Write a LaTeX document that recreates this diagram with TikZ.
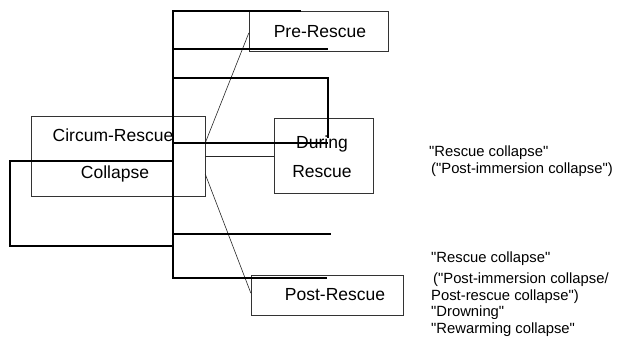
\documentclass[tikz,border=0pt]{standalone}
\usepackage{fontspec}
\setmainfont{Liberation Sans}[Ligatures=TeXOff]
\begin{document}
\begin{tikzpicture}[x=1pt,y=-1pt,
  thick line/.style={line width=2.2pt,line cap=rect},
  thin box/.style={draw=black!80,line width=0.6pt},
  thin link/.style={draw=black!85,line width=0.6pt},
  boxtext/.style={font=\fontsize{17.5}{20}\selectfont,inner sep=0pt},
  note/.style={font=\fontsize{14.8}{17}\selectfont,inner sep=0pt,anchor=west}]
\useasboundingbox (0,0) rectangle (618,347);
% thin boxes
\draw[thin box] (249,11) rectangle (388,51);
\draw[thin box] (31,116) rectangle (205,196);
\draw[thin box] (274,118) rectangle (373,193);
\draw[thin box] (251,275) rectangle (403,315);
% named box nodes
\node[inner sep=0pt,minimum width=139pt,minimum height=40pt] (pre) at (318.5,31) {};
\node[inner sep=0pt,minimum width=174pt,minimum height=80pt] (circ) at (118,156) {};
\node[inner sep=0pt,minimum width=99pt,minimum height=75pt] (dur) at (323.5,155.5) {};
\node[inner sep=0pt,minimum width=152pt,minimum height=40pt] (post) at (327,295) {};
% thin connectors
\draw[thin link] (circ.east |- 0,143) -- (pre.west |- 0,33);
\draw[thin link] (circ.east |- 0,174) -- (post.west |- 0,293);
\draw[thin link] (circ.east |- 0,156) -- (dur.west |- 0,156);
% thick tree
\coordinate (top) at (173,11);
\coordinate (bot) at (173,278);
\draw[thick line] (top) -- (bot);
\draw[thick line] (top) -- (300,11);
\draw[thick line] (173,49) -- (327,49);
\draw[thick line] (173,78) -- (328,78) -- (328,137);
\draw[thick line] (173,143) -- (327,143);
\draw[thick line] (173,234) -- (330,234);
\draw[thick line] (bot) -- (326,278);
\draw[thick line] (173,161) -- (10,161) -- (10,246) -- (173,246);
% texts
\node[boxtext] (tpre) at (320,32) {Pre-Rescue};
\node[boxtext] (tcirc) at (113,135) {Circum-Rescue};
\node[boxtext] (tcol) at (115,174) {Collapse};
\node[boxtext] (tdur1) at (322,144) {During};
\node[boxtext] (tdur2) at (322,172) {Rescue};
\node[boxtext] (tpost) at (335,295) {Post-Rescue};
\node[note] (n1) at (429,153) {"Rescue collapse"};
\node[note] (n2) at (431,170) {("Post-immersion collapse")};
\node[note] (n3) at (431,259) {"Rescue collapse"};
\node[note] (n4) at (433,280) {("Post-immersion collapse/};
\node[note] (n5) at (431,297) {Post-rescue collapse")};
\node[note] (n6) at (431,313) {"Drowning"};
\node[note] (n7) at (431,330) {"Rewarming collapse"};
\end{tikzpicture}
\end{document}
